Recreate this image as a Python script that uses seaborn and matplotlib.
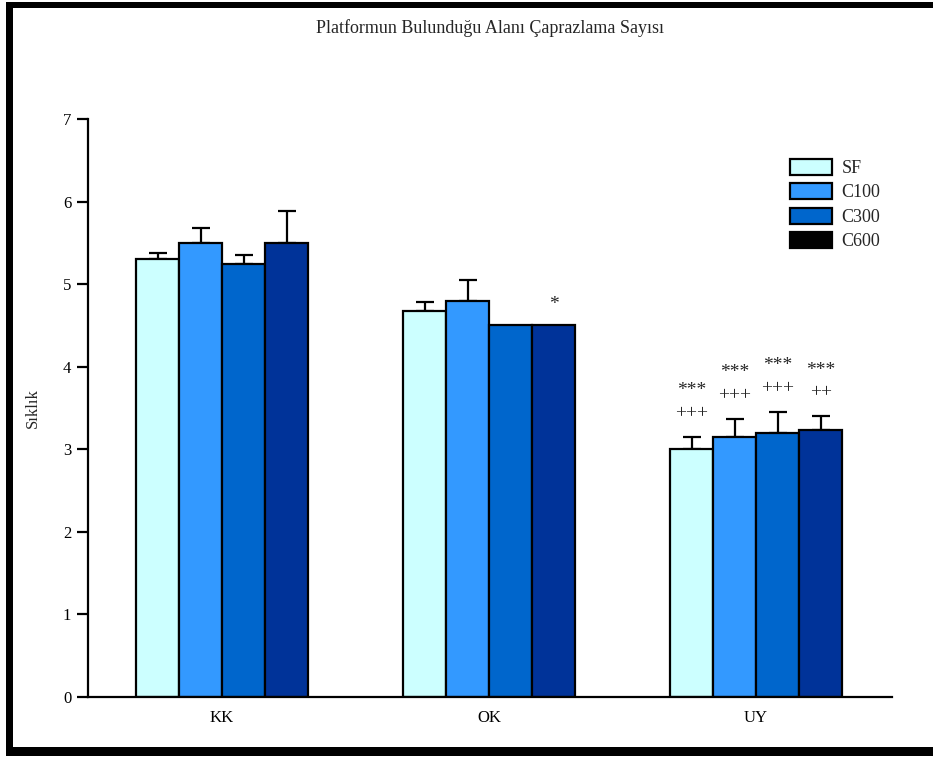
import matplotlib
matplotlib.use("Agg")
import matplotlib.pyplot as plt
from matplotlib.patches import Patch, Rectangle
import numpy as np
import pandas as pd
import seaborn as sns

# --- data ---------------------------------------------------------------
groups = ["KK", "OK", "UY"]
treatments = ["SF", "C100", "C300", "C600"]
means = {
    "SF":   [5.30, 4.67, 3.00],
    "C100": [5.50, 4.80, 3.15],
    "C300": [5.25, 4.50, 3.20],
    "C600": [5.50, 4.50, 3.23],
}
sems = {
    "SF":   [0.08, 0.11, 0.15],
    "C100": [0.18, 0.25, 0.22],
    "C300": [0.10, 0.00, 0.25],
    "C600": [0.38, 0.00, 0.17],
}
# significance marks per (treatment, group): (upper line, lower line)
stars = {
    ("C600", "OK"): ("*", ""),
    ("SF", "UY"): ("***", "+++"),
    ("C100", "UY"): ("***", "+++"),
    ("C300", "UY"): ("***", "+++"),
    ("C600", "UY"): ("***", "++"),
}
title = "Platformun Bulunduğu Alanı Çaprazlama Sayısı"
ylabel = "Sıklık"
yticks = [0, 1, 2, 3, 4, 5, 6, 7]

bar_colors = {"SF": "#CCFFFF", "C100": "#3399FF", "C300": "#0066CC", "C600": "#003399"}
legend_colors = {"SF": "#CCFFFF", "C100": "#3399FF", "C300": "#0066CC", "C600": "#000000"}

rows = []
for t in treatments:
    for g, m, s in zip(groups, means[t], sems[t]):
        rows.append({"group": g, "treatment": t, "mean": m, "sem": s})
df = pd.DataFrame(rows)

# --- figure -------------------------------------------------------------
sns.set_theme(style="white")
plt.rcParams["font.family"] = ["Liberation Serif", "DejaVu Serif"]

W, H = 933, 763
fig = plt.figure(figsize=(W / 100, H / 100), dpi=100)
fig.patch.set_facecolor("white")

def px(x0, y0, x1, y1):
    """Pixel box -> figure-fraction rect [left, bottom, width, height]."""
    return [x0 / W, 1 - y1 / H, (x1 - x0) / W, (y1 - y0) / H]

ax = fig.add_axes(px(88, 119, 892, 697))

sns.barplot(
    data=df, x="group", y="mean", hue="treatment",
    order=groups, hue_order=treatments, palette=bar_colors,
    width=0.644, saturation=1, errorbar=None,
    edgecolor="black", linewidth=1.6, legend=False, ax=ax, zorder=2,
)

# one-sided error bars and significance marks
for t, cont in zip(treatments, ax.containers):
    for g, bar in zip(groups, cont):
        row = df[(df.treatment == t) & (df.group == g)].iloc[0]
        xc = bar.get_x() + bar.get_width() / 2
        top = row["mean"]
        if row["sem"] > 0:
            ax.errorbar([xc], [top], yerr=[[0], [row["sem"]]], fmt="none",
                        ecolor="black", elinewidth=1.6, capsize=6.5,
                        capthick=1.6, zorder=1)
            top = top + row["sem"]
        if (t, g) in stars:
            s1, s2 = stars[(t, g)]
            if s2:
                ax.annotate(s2, xy=(xc, top), xytext=(0, 13.5), textcoords="offset points",
                            ha="center", va="baseline", fontsize=14)
                ax.annotate(s1, xy=(xc, top), xytext=(0, 30), textcoords="offset points",
                            ha="center", va="baseline", fontsize=14)
            else:
                ax.annotate(s1, xy=(xc, top), xytext=(0, 12), textcoords="offset points",
                            ha="center", va="baseline", fontsize=14)

ax.set_xlim(-0.502, 2.509)
ax.set_ylim(0, 7)
ax.set_yticks(yticks)
ax.set_yticklabels([str(v) for v in yticks])
ax.set_xlabel("")
ax.set_ylabel(ylabel, fontsize=12)
ax.yaxis.set_label_coords(-0.058, 0.5)

for side in ("top", "right"):
    ax.spines[side].set_visible(False)
for side in ("left", "bottom"):
    ax.spines[side].set_linewidth(1.6)
    ax.spines[side].set_color("black")

ax.tick_params(axis="y", direction="out", length=8, width=1.6, pad=4,
               labelsize=12, left=True, colors="black")
ax.tick_params(axis="x", length=0, pad=9, labelsize=12, colors="black")

handles = [Patch(facecolor=legend_colors[t], edgecolor="black", linewidth=1.6, label=t)
           for t in treatments]
ax.legend(handles=handles, loc="upper left",
          bbox_to_anchor=((790 - 88) / 804, (697 - 159) / 578),
          frameon=False, fontsize=13, handlelength=2.3, handleheight=0.95,
          handletextpad=0.55, labelspacing=0.36, borderpad=0, borderaxespad=0)

fig.text(490 / W, 1 - 28 / H, title, ha="center", va="center", fontsize=13)

# black frame bands
for box in [(6, 2, W, 8), (6, 2, 13, 756), (6, 747, W, 756)]:
    r = px(*box)
    fig.patches.append(Rectangle(r[:2], r[2], r[3], transform=fig.transFigure,
                                 facecolor="black", edgecolor="none", zorder=10))

fig.savefig("out.png", dpi=100, facecolor="white")
